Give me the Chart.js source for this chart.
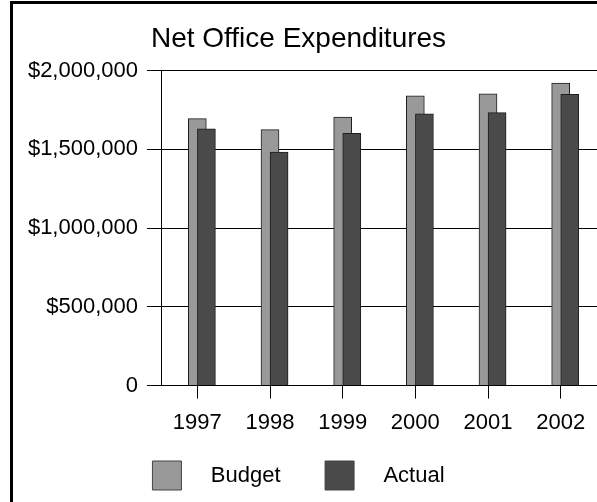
<!DOCTYPE html>
<html>
<head>
<meta charset="utf-8">
<script src="https://cdn.jsdelivr.net/npm/chart.js@4.4.1/dist/chart.umd.min.js"></script>
<style>
  html, body { margin: 0; padding: 0; background: #fff; overflow: hidden; }
  #wrap { position: relative; width: 597px; height: 502px; }
  #frame {
    position: absolute; left: 10px; top: 1px; width: 700px; height: 600px;
    border-left: 3px solid #000; border-top: 3px solid #000; pointer-events: none;
  }
</style>
</head>
<body>
<div id="wrap">
  <canvas id="myChart" width="597" height="502"></canvas>
  <div id="frame"></div>
</div>
<script>
// Jahre und Beträge
const years = [1997, 1998, 1999, 2000, 2001, 2002];
const budget = [1695000, 1625000, 1705000, 1840000, 1852000, 1920000];
const actual = [1630000, 1483000, 1602000, 1725000, 1733000, 1850000];
const yTickLabels = ['0', '$500,000', '$1,000,000', '$1,500,000', '$2,000,000'];

// Actual-Säule sitzt eine halbe Säulenbreite rechts neben Budget
const actualShift = 0.125;

const font = 'Liberation Sans, Arial, sans-serif';

const ctx = document.getElementById('myChart').getContext('2d');
const chart = new Chart(ctx, {
    type: 'bar',
    data: {
        datasets: [{
            label: 'Budget',
            data: budget.map((v, i) => ({ x: years[i], y: v })),
            backgroundColor: '#999999',
            borderColor: '#1e1e1e',
            borderWidth: 1,
            order: 1
        }, {
            label: 'Actual',
            data: actual.map((v, i) => ({ x: years[i] + actualShift, y: v })),
            backgroundColor: '#4a4a4a',
            borderColor: '#1e1e1e',
            borderWidth: 1,
            order: 0
        }]
    },
    options: {
        responsive: false,
        animation: false,
        grouped: false,
        barThickness: 18,
        layout: { padding: { left: 0, right: 0, top: 0, bottom: 2 } },
        plugins: {
            title: {
                display: true,
                text: 'Net Office Expenditures',
                color: '#000',
                font: { family: font, size: 28, weight: 'normal' },
                padding: { top: 22, bottom: 15 }
            },
            legend: {
                position: 'bottom',
                labels: {
                    color: '#000',
                    font: { family: font, size: 22 },
                    boxWidth: 29,
                    boxHeight: 29,
                    padding: 14,
                    sort: (a, b) => a.datasetIndex - b.datasetIndex,
                    // Leerzeichen schaffen Abstand zwischen Kästchen, Text und nächstem Eintrag
                    generateLabels: c => c.data.datasets.map((ds, i) => ({
                        text: '   ' + ds.label + (i === 0 ? '     ' : ''),
                        fillStyle: ds.backgroundColor,
                        strokeStyle: '#444',
                        lineWidth: 1,
                        fontColor: '#000',
                        datasetIndex: i
                    }))
                }
            },
            tooltip: { enabled: false }
        },
        scales: {
            x: {
                type: 'linear',
                min: 1996.5,
                max: 2002.5,
                offset: false,
                afterBuildTicks: axis => { axis.ticks = years.map(v => ({ value: v })); },
                grid: {
                    offset: false,
                    drawOnChartArea: false,
                    color: '#000',
                    lineWidth: 1,
                    tickLength: 13
                },
                border: { color: '#000', width: 1 },
                ticks: {
                    color: '#000',
                    font: { family: font, size: 22 },
                    padding: 11,
                    maxRotation: 0,
                    callback: v => String(v)
                }
            },
            y: {
                min: 0,
                max: 2000000,
                afterFit: axis => { axis.width = 161; },
                grid: {
                    color: '#000',
                    tickLength: 14
                },
                border: { color: '#000' },
                ticks: {
                    stepSize: 500000,
                    color: '#000',
                    font: { family: font, size: 22 },
                    padding: 9,
                    callback: (v, i) => yTickLabels[i]
                }
            }
        }
    }
});
</script>
</body>
</html>
